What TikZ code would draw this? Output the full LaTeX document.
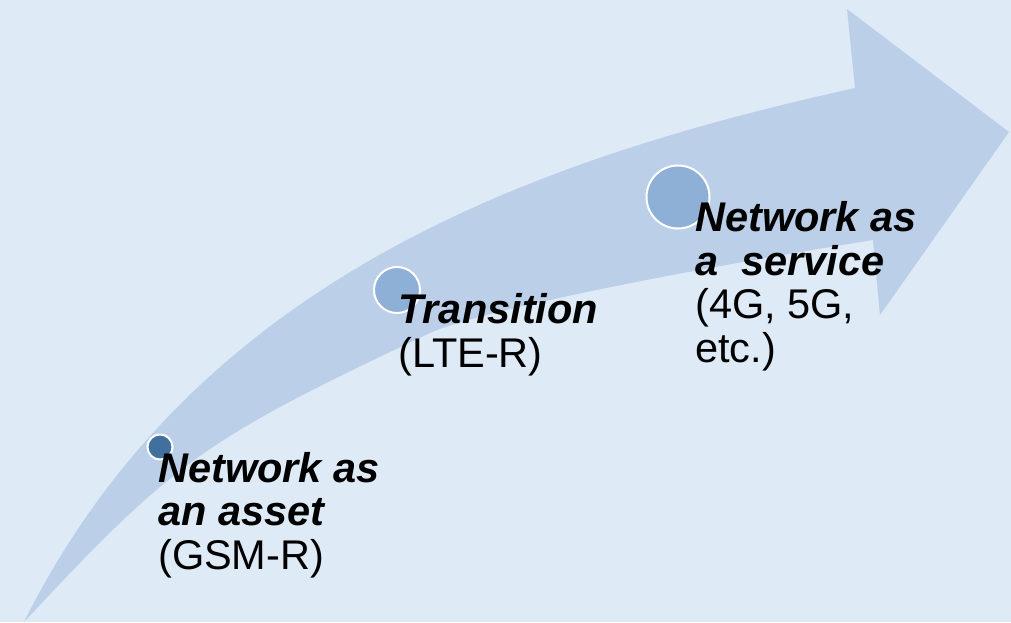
\documentclass[tikz,border=0pt]{standalone}
\usepackage{fontspec}
\setmainfont{Liberation Sans}
\definecolor{bgblue}{RGB}{222,234,246}
\definecolor{arrowblue}{RGB}{187,207,233}
\definecolor{darkdot}{RGB}{65,112,159}
\definecolor{lightdot}{RGB}{142,175,214}
\begin{document}
\begin{tikzpicture}[x=1pt,y=-1pt,
		dot/.style={circle,draw=white,line width=2pt,inner sep=0pt},
		stage/.style={anchor=base west,align=left,inner sep=0pt,
			font=\fontsize{41.5pt}{43.5pt}\selectfont}]
	\fill [bgblue] (0,0) rectangle (1011,622);
	\useasboundingbox (0,0) rectangle (1011,622);
	% big curved arrow
	\fill [arrowblue] (24,622) .. controls (194,282) and (525,161) .. (855,88)
		-- (847,9) -- (1009,132) -- (880,315) -- (873,240)
		.. controls (673,272) and (475,312) .. (430,333)
		.. controls (205,439) and (175,460) .. (24,622) -- cycle;
	% stages
	\node [dot,fill=darkdot,minimum size=25pt] (asset) at (160,447) {};
	\node [dot,fill=lightdot,minimum size=46pt] (lte) at (397,290) {};
	\node [dot,fill=lightdot,minimum size=63pt] (service) at (678,197) {};
	\node [stage] (assettext) at (158,569) {{\bfseries\itshape Network as}\\{\bfseries\itshape an asset}\\(GSM-R)};
	\node [stage] (ltetext) at (398,367) {{\bfseries\itshape Transition}\\(LTE-R)};
	\node [stage] (servicetext) at (695,362) {{\bfseries\itshape Network as}\\{\bfseries\itshape a\ \ service}\\(4G, 5G,\\etc.)};
\end{tikzpicture}
\end{document}
